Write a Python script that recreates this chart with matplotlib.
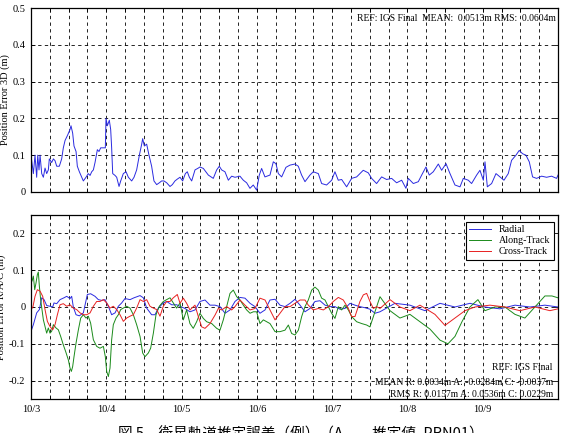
import numpy as np
import matplotlib
matplotlib.use("Agg")
from matplotlib import pyplot as plt

# days since 10/3 00:00
t_3d = [0.000, 0.031, 0.053, 0.075, 0.089, 0.106, 0.120, 0.142, 0.164, 0.186, 0.208, 0.230, 0.243,
        0.274, 0.297, 0.319, 0.341, 0.376, 0.407, 0.429, 0.452, 0.487, 0.518, 0.531, 0.553, 0.571,
        0.598, 0.615, 0.642, 0.673, 0.695, 0.730, 0.761, 0.784, 0.806, 0.828, 0.850, 0.881, 0.903,
        0.925, 0.961, 0.987, 0.996, 1.014, 1.040, 1.058, 1.071, 1.085, 1.116, 1.138, 1.169, 1.191,
        1.226, 1.262, 1.293, 1.337, 1.368, 1.403, 1.439, 1.470, 1.483, 1.505, 1.536, 1.567, 1.602,
        1.633, 1.669, 1.704, 1.735, 1.766, 1.802, 1.846, 1.877, 1.912, 1.943, 1.979, 2.014, 2.050,
        2.076, 2.103, 2.134, 2.178, 2.222, 2.244, 2.289, 2.355, 2.421, 2.466, 2.501, 2.532, 2.576,
        2.621, 2.665, 2.709, 2.775, 2.820, 2.864, 2.908, 2.952, 2.997, 3.032, 3.063, 3.107, 3.174,
        3.218, 3.253, 3.285, 3.329, 3.386, 3.439, 3.506, 3.550, 3.594, 3.639, 3.705, 3.749, 3.816,
        3.860, 3.926, 3.993, 4.037, 4.081, 4.126, 4.192, 4.258, 4.325, 4.413, 4.480, 4.524, 4.590,
        4.657, 4.723, 4.790, 4.856, 4.923, 4.980, 5.011, 5.078, 5.144, 5.189, 5.246, 5.290, 5.343,
        5.410, 5.454, 5.512, 5.565, 5.631, 5.698, 5.742, 5.808, 5.852, 5.919, 5.963, 6.008, 6.030,
        6.061, 6.118, 6.176, 6.229, 6.282, 6.339, 6.383, 6.441, 6.485, 6.529, 6.574, 6.618, 6.662,
        6.715, 6.782, 6.848, 6.914, 6.981, 7.000]
err_3d = [0.100, 0.050, 0.100, 0.040, 0.100, 0.060, 0.100, 0.050, 0.040, 0.065, 0.050, 0.060, 0.090,
          0.080, 0.090, 0.085, 0.070, 0.070, 0.090, 0.120, 0.140, 0.155, 0.170, 0.180, 0.160, 0.125,
          0.110, 0.070, 0.055, 0.040, 0.030, 0.040, 0.050, 0.045, 0.055, 0.060, 0.080, 0.115, 0.110,
          0.120, 0.120, 0.120, 0.200, 0.180, 0.195, 0.170, 0.120, 0.050, 0.045, 0.040, 0.015, 0.030,
          0.050, 0.055, 0.040, 0.030, 0.040, 0.060, 0.100, 0.130, 0.145, 0.125, 0.130, 0.100, 0.070,
          0.030, 0.020, 0.025, 0.030, 0.030, 0.025, 0.015, 0.020, 0.030, 0.035, 0.040, 0.030, 0.050,
          0.055, 0.040, 0.030, 0.060, 0.065, 0.068, 0.064, 0.046, 0.037, 0.060, 0.070, 0.060, 0.055,
          0.032, 0.043, 0.040, 0.043, 0.032, 0.025, 0.010, 0.019, 0.005, 0.046, 0.064, 0.041, 0.046,
          0.082, 0.077, 0.050, 0.041, 0.067, 0.073, 0.076, 0.070, 0.046, 0.028, 0.046, 0.055, 0.050,
          0.023, 0.019, 0.032, 0.055, 0.032, 0.034, 0.014, 0.037, 0.041, 0.059, 0.052, 0.037, 0.023,
          0.041, 0.034, 0.037, 0.025, 0.032, 0.010, 0.037, 0.023, 0.028, 0.046, 0.068, 0.046, 0.055,
          0.076, 0.059, 0.077, 0.050, 0.019, 0.014, 0.037, 0.032, 0.023, 0.046, 0.059, 0.032, 0.082,
          0.014, 0.023, 0.050, 0.041, 0.032, 0.050, 0.086, 0.100, 0.113, 0.104, 0.100, 0.082, 0.041,
          0.037, 0.043, 0.040, 0.043, 0.037, 0.046]

t_radial = [0.000, 0.031, 0.075, 0.111, 0.142, 0.173, 0.208, 0.252, 0.288, 0.305, 0.341, 0.385,
            0.438, 0.474, 0.518, 0.540, 0.562, 0.598, 0.642, 0.695, 0.748, 0.792, 0.850, 0.894,
            0.938, 0.983, 1.027, 1.071, 1.116, 1.160, 1.204, 1.248, 1.315, 1.368, 1.448, 1.492,
            1.536, 1.602, 1.647, 1.691, 1.757, 1.802, 1.868, 1.934, 2.045, 2.111, 2.178, 2.244,
            2.311, 2.377, 2.444, 2.510, 2.577, 2.643, 2.709, 2.776, 2.842, 2.909, 2.975, 3.041,
            3.108, 3.174, 3.241, 3.307, 3.373, 3.440, 3.506, 3.573, 3.639, 3.705, 3.772, 3.838,
            3.905, 3.971, 4.037, 4.104, 4.170, 4.237, 4.303, 4.369, 4.436, 4.502, 4.569, 4.635,
            4.834, 5.033, 5.232, 5.432, 5.631, 5.830, 6.029, 6.228, 6.428, 6.627, 6.826, 6.999]
radial = [-0.066, -0.048, -0.016, -0.007, 0.025, 0.020, 0.004, 0.002, 0.000, 0.011, 0.009, 0.020,
          0.025, 0.029, 0.023, 0.029, 0.000, -0.021, -0.024, -0.016, 0.034, 0.036, 0.029, 0.020,
          0.018, 0.020, 0.002, -0.021, -0.016, 0.002, 0.011, 0.023, 0.020, 0.025, 0.031, 0.025,
          -0.003, -0.021, -0.021, -0.003, 0.011, 0.015, 0.006, 0.006, -0.004, -0.013, -0.008,
          0.015, 0.019, 0.005, 0.005, 0.001, -0.017, -0.008, 0.015, 0.026, 0.024, 0.010, 0.001,
          -0.017, -0.008, 0.019, 0.021, 0.005, 0.001, 0.010, 0.021, 0.005, -0.013, -0.004, 0.015,
          0.017, 0.005, 0.001, 0.001, -0.006, -0.004, 0.010, 0.005, 0.001, -0.002, -0.006, -0.017,
          -0.013, 0.010, 0.005, -0.010, 0.010, 0.000, 0.010, 0.000, -0.005, 0.005, 0.000, 0.005, 0.000]

t_along = [0.000, 0.013, 0.031, 0.049, 0.066, 0.084, 0.097, 0.111, 0.128, 0.146, 0.164, 0.186,
           0.208, 0.230, 0.252, 0.274, 0.297, 0.332, 0.363, 0.394, 0.429, 0.460, 0.496, 0.518,
           0.536, 0.553, 0.571, 0.598, 0.629, 0.660, 0.695, 0.730, 0.761, 0.792, 0.828, 0.872,
           0.916, 0.961, 0.987, 1.005, 1.027, 1.049, 1.071, 1.093, 1.129, 1.160, 1.191, 1.226,
           1.270, 1.315, 1.359, 1.403, 1.448, 1.483, 1.514, 1.558, 1.589, 1.625, 1.660, 1.704,
           1.757, 1.802, 1.846, 1.890, 1.934, 1.979, 2.023, 2.067, 2.111, 2.155, 2.200, 2.244,
           2.289, 2.333, 2.400, 2.466, 2.510, 2.554, 2.599, 2.643, 2.687, 2.732, 2.776, 2.820,
           2.864, 2.909, 2.953, 2.997, 3.041, 3.086, 3.130, 3.174, 3.241, 3.307, 3.373, 3.418,
           3.462, 3.506, 3.551, 3.595, 3.639, 3.683, 3.728, 3.772, 3.816, 3.860, 3.905, 3.949,
           3.993, 4.037, 4.082, 4.126, 4.170, 4.215, 4.259, 4.325, 4.392, 4.458, 4.502, 4.547,
           4.591, 4.635, 4.768, 4.900, 5.033, 5.166, 5.299, 5.432, 5.538, 5.631, 5.724, 5.830,
           5.936, 6.029, 6.162, 6.295, 6.428, 6.560, 6.693, 6.826, 6.919, 6.999]
along = [0.079, 0.070, 0.084, 0.047, 0.065, 0.088, 0.095, 0.056, 0.020, -0.007, -0.035, -0.053,
         -0.071, -0.057, -0.071, -0.066, -0.048, -0.057, -0.062, -0.080, -0.103, -0.121, -0.144,
         -0.166, -0.175, -0.162, -0.135, -0.098, -0.062, -0.030, -0.021, -0.030, -0.025, -0.044,
         -0.089, -0.107, -0.112, -0.107, -0.135, -0.175, -0.189, -0.166, -0.089, -0.048, -0.030,
         -0.021, -0.007, -0.003, 0.002, -0.003, -0.021, -0.048, -0.080, -0.125, -0.135, -0.125,
         -0.112, -0.071, -0.021, 0.002, 0.015, 0.020, 0.025, 0.011, -0.003, 0.011, -0.035,
         -0.008, -0.045, -0.058, -0.040, -0.017, -0.031, -0.040, -0.045, -0.058, -0.063, -0.035,
         0.001, 0.037, 0.046, 0.028, 0.019, 0.005, -0.008, -0.017, -0.013, -0.013, -0.045,
         -0.035, -0.040, -0.045, -0.067, -0.067, -0.063, -0.049, -0.072, -0.076, -0.063, -0.026,
         0.001, 0.019, 0.046, 0.054, 0.046, 0.024, 0.019, 0.001, -0.017, -0.031, 0.001, -0.008,
         0.005, -0.008, -0.026, -0.040, -0.045, -0.049, -0.054, -0.026, 0.001, 0.028, -0.010,
         -0.030, -0.020, -0.040, -0.060, -0.090, -0.100, -0.080, -0.040, 0.000, 0.020, -0.010,
         0.000, 0.000, -0.020, -0.030, 0.000, 0.030, 0.030, 0.025]

t_cross = [0.000, 0.022, 0.053, 0.084, 0.120, 0.155, 0.186, 0.217, 0.252, 0.288, 0.319, 0.350,
           0.385, 0.429, 0.474, 0.518, 0.562, 0.606, 0.651, 0.695, 0.739, 0.784, 0.828, 0.872,
           0.916, 0.961, 1.005, 1.049, 1.093, 1.138, 1.182, 1.226, 1.270, 1.315, 1.359, 1.403,
           1.448, 1.492, 1.536, 1.580, 1.625, 1.669, 1.713, 1.757, 1.802, 1.846, 1.890, 1.943,
           1.979, 2.023, 2.067, 2.111, 2.178, 2.222, 2.267, 2.311, 2.377, 2.444, 2.488, 2.532,
           2.599, 2.665, 2.709, 2.776, 2.842, 2.909, 2.975, 3.041, 3.108, 3.174, 3.241, 3.307,
           3.373, 3.440, 3.506, 3.573, 3.639, 3.683, 3.750, 3.816, 3.883, 3.949, 4.015, 4.082,
           4.148, 4.215, 4.259, 4.303, 4.369, 4.414, 4.458, 4.502, 4.547, 4.591, 4.635, 4.768,
           4.900, 5.033, 5.166, 5.365, 5.498, 5.631, 5.764, 5.896, 6.096, 6.295, 6.494, 6.693,
           6.892, 6.999]
cross = [0.002, -0.003, 0.029, 0.047, 0.043, 0.029, -0.007, -0.039, -0.053, -0.062, -0.048,
         -0.021, 0.006, 0.009, 0.002, 0.006, -0.003, -0.007, -0.016, -0.021, -0.021, -0.016,
         0.002, 0.015, 0.015, 0.020, 0.011, -0.003, 0.002, -0.007, -0.021, -0.039, -0.030,
         -0.025, -0.021, -0.003, 0.020, 0.015, 0.020, 0.002, -0.003, -0.007, -0.025, 0.002,
         0.015, 0.015, 0.025, 0.034, 0.010, 0.024, 0.010, -0.008, 0.005, -0.026, -0.054, -0.058,
         -0.045, -0.022, -0.004, -0.008, 0.001, -0.008, 0.001, 0.019, 0.005, -0.008, -0.004,
         0.024, 0.019, -0.008, -0.035, -0.017, 0.001, 0.001, 0.010, 0.019, 0.019, 0.005, -0.008,
         -0.004, -0.008, 0.001, 0.015, 0.026, 0.019, -0.004, -0.026, -0.026, 0.015, 0.033, 0.037,
         0.015, -0.004, 0.001, -0.004, 0.020, 0.000, -0.010, 0.005, -0.020, -0.050, -0.030,
         -0.010, 0.000, 0.005, 0.000, -0.010, 0.000, -0.010, -0.005]

day_labels = ["10/3", "10/4", "10/5", "10/6", "10/7", "10/8", "10/9"]
series_names = ["Radial", "Along-Track", "Cross-Track"]

plt.rcParams["font.family"] = ["Liberation Serif", "DejaVu Serif"]
plt.rcParams["font.size"] = 7.5

fig = plt.figure(figsize=(5.61, 4.33), dpi=100)
ax1 = fig.add_axes([0.0553, 0.5566, 0.9394, 0.4249])
ax2 = fig.add_axes([0.0553, 0.0785, 0.9394, 0.4250])

xticks = np.arange(0, 7.001, 0.25)
xlabels = [day_labels[int(v)] if v % 1 == 0 and int(v) < len(day_labels) else "" for v in xticks]

for ax in (ax1, ax2):
    ax.set_xlim(0, 7)
    ax.set_xticks(xticks)
    ax.grid(True, color="black", linestyle=(0, (4, 4)), linewidth=0.6)
    ax.tick_params(direction="in", top=True, right=True, length=3, width=0.6, pad=4)
    for s in ax.spines.values():
        s.set_linewidth(0.9)

ax1.plot(t_3d, err_3d, color="#2a2ae0", linewidth=0.7)
ax1.set_ylim(0, 0.5)
ax1.set_yticks([0, 0.1, 0.2, 0.3, 0.4, 0.5])
ax1.set_yticklabels(["0", "0.1", "0.2", "0.3", "0.4", "0.5"])
ax1.set_xticklabels([])
ax1.set_ylabel("Position Error 3D (m)", labelpad=2)
ax1.text(0.995, 0.945, "REF: IGS Final  MEAN:  0.0513m RMS:  0.0604m",
         transform=ax1.transAxes, ha="right", va="center", fontsize=6.9)

ax2.plot(t_radial, radial, color="#2a2ae0", linewidth=0.7, label=series_names[0])
ax2.plot(t_along, along, color="#1a8a1a", linewidth=0.7, label=series_names[1])
ax2.plot(t_cross, cross, color="#e82020", linewidth=0.7, label=series_names[2])
ax2.set_ylim(-0.25, 0.25)
ax2.set_yticks([-0.2, -0.1, 0, 0.1, 0.2])
ax2.set_yticklabels(["-0.2", "-0.1", "0", "0.1", "0.2"])
ax2.set_xticklabels(xlabels)
ax2.set_ylabel("Position Error R/A/C (m)", labelpad=2)
leg = ax2.legend(loc="upper right", bbox_to_anchor=(0.9924, 0.962), borderaxespad=0,
                 fancybox=False, edgecolor="black", framealpha=1, handlelength=2.2,
                 borderpad=0.35, labelspacing=0.2, fontsize=7.2)
leg.get_frame().set_linewidth(0.8)
ax2.text(0.99, 0.17, "REF: IGS Final", transform=ax2.transAxes, ha="right", va="center",
         fontsize=6.9)
ax2.text(0.99, 0.09, "MEAN R: 0.0034m A: -0.0284m C: -0.0037m",
         transform=ax2.transAxes, ha="right", va="center", fontsize=6.9)
ax2.text(0.99, 0.025, "RMS R: 0.0157m A: 0.0536m C: 0.0229m",
         transform=ax2.transAxes, ha="right", va="center", fontsize=6.9)

fig.text(0.21, 0.0, "図 5　衛星軌道推定誤差（例）（A　　推定値, PRN01）", ha="left", va="center",
         fontsize=10.5, family=["Noto Sans CJK JP", "DejaVu Sans"])

fig.savefig("out.png", dpi=100)
